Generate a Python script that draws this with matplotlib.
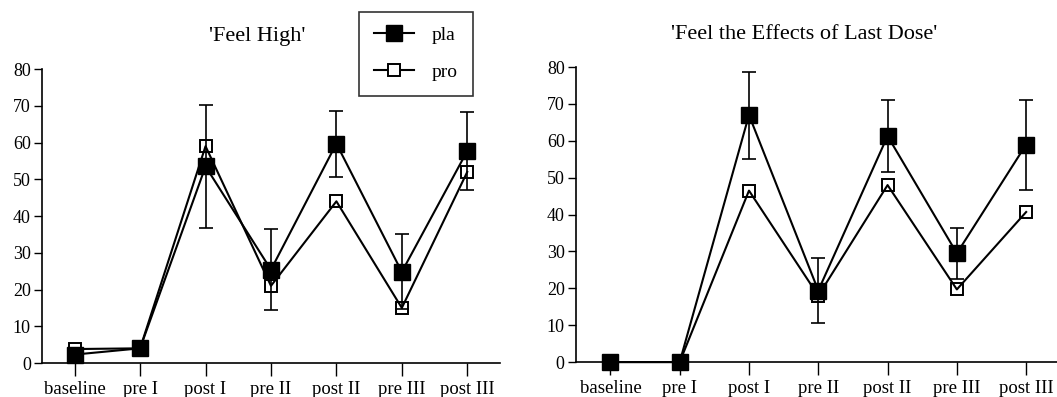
import matplotlib
matplotlib.use('Agg')
import matplotlib.pyplot as plt
from matplotlib.lines import Line2D
import numpy as np

plt.rcParams['font.family'] = ['Liberation Serif', 'DejaVu Serif']

phases = ['baseline', 'pre I', 'post I', 'pre II', 'post II', 'pre III', 'post III']

# 'Feel High'
high_pla = [2.3, 4.0, 53.5, 25.4, 59.7, 24.8, 57.7]
high_pla_err = [0, 0, 16.7, 11.1, 9.0, 10.2, 10.7]
high_pro = [3.8, 4.0, 59.0, 21.0, 44.0, 15.0, 52.0]

# 'Feel the Effects of Last Dose'
eff_pla = [0.0, 0.0, 67.0, 19.4, 61.3, 29.5, 59.0]
eff_pla_err = [0, 0, 11.8, 8.7, 9.7, 6.9, 12.2]
eff_pro = [0.0, 0.0, 46.5, 18.0, 48.0, 19.7, 40.7]

fig = plt.figure(figsize=(10.57, 3.97), dpi=100)
ax1 = fig.add_axes([0.0397, 0.0856, 0.4333, 0.7405])
ax2 = fig.add_axes([0.5447, 0.088, 0.4589, 0.743])


def draw_panel(ax, pla, pla_err, pro, title):
    x = np.arange(len(phases))
    ax.plot(x, pro, color='black', linewidth=1.5, marker='s', markersize=9,
            markerfacecolor='none', markeredgecolor='black', markeredgewidth=1.4,
            zorder=3, clip_on=False)
    ax.errorbar(x, pla, yerr=pla_err, color='black', linewidth=1.5,
                marker='s', markersize=11, markerfacecolor='black',
                ecolor='black', elinewidth=1.2, capsize=4.7, capthick=1.2,
                zorder=4, clip_on=False)
    ax.set_xlim(-0.5, 6.5)
    ax.set_ylim(0, 80)
    ax.set_yticks(range(0, 81, 10))
    ax.set_xticks(x)
    ax.set_xticklabels(phases)
    for side in ['top', 'right']:
        ax.spines[side].set_visible(False)
    for side in ['left', 'bottom']:
        ax.spines[side].set_linewidth(1.2)
    ax.tick_params(axis='x', direction='out', length=9, width=1, labelsize=13.5, pad=4)
    ax.tick_params(axis='y', direction='out', length=6, width=1, labelsize=13, pad=2)
    ax.set_title(title, fontsize=16, x=0.47, pad=20)


draw_panel(ax1, high_pla, high_pla_err, high_pro, "'Feel High'")
draw_panel(ax2, eff_pla, eff_pla_err, eff_pro, "'Feel the Effects of Last Dose'")

handles = [
    Line2D([], [], color='black', linewidth=1.5, marker='s', markersize=11,
           markerfacecolor='black'),
    Line2D([], [], color='black', linewidth=1.5, marker='s', markersize=9,
           markerfacecolor='white', markeredgewidth=1.4),
]
leg = fig.legend(handles, ['pla', 'pro'],
                 loc='upper left', bbox_to_anchor=(359 / 1057, 1 - 12 / 397),
                 fontsize=14, frameon=True, fancybox=False, edgecolor='black',
                 handlelength=2.1, labelspacing=1.0, borderpad=0.75,
                 handletextpad=0.9, borderaxespad=0)
leg.get_frame().set_linewidth(1.2)

fig.savefig('out.png', dpi=100, facecolor='white')
